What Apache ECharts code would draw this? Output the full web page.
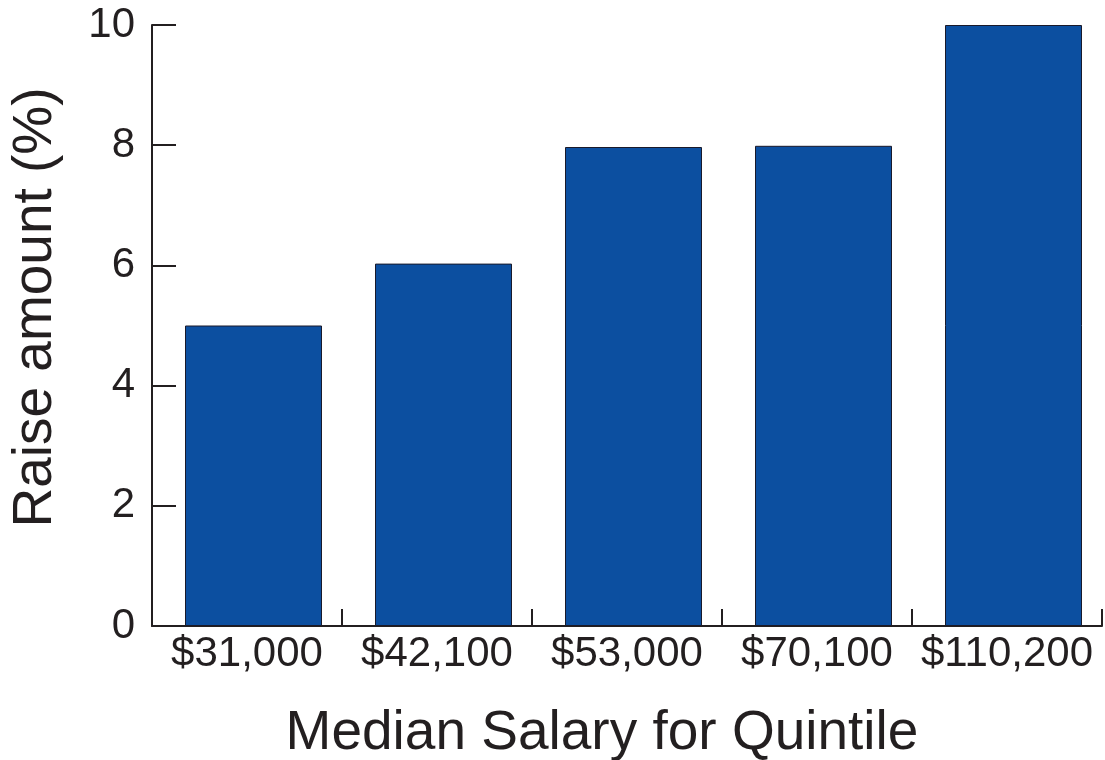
<!DOCTYPE html>
<html>
<head>
<meta charset="utf-8">
<script src="https://cdn.jsdelivr.net/npm/echarts@6/dist/echarts.min.js"></script>
<style>
  html, body { margin: 0; padding: 0; background: #fff; }
  #chart { width: 1105px; height: 760px; }
</style>
</head>
<body>
<div id="chart"></div>
<script>
  // salary quintiles and raise percent
  var categories = ['$31,000', '$42,100', '$53,000', '$70,100', '$110,200'];
  var raiseValues = [5.0, 6.03, 7.97, 7.99, 10.0];
  var yTicks = [0, 2, 4, 6, 8, 10];

  var textColor = '#231f20';
  var font = 'Liberation Sans, Arial, Helvetica, sans-serif';

  var myChart = echarts.init(document.getElementById('chart'));
  var option = {
    animation: false,
    grid: {
      left: 152,
      right: 3,
      top: 25,
      bottom: 134,
      outerBoundsMode: 'none'
    },
    xAxis: {
      type: 'category',
      data: categories,
      name: 'Median Salary for Quintile',
      nameLocation: 'middle',
      nameGap: 80,
      nameTextStyle: {
        fontSize: 55,
        color: textColor,
        fontFamily: font,
        padding: [0, 50, 0, 0]
      },
      axisLine: { lineStyle: { color: textColor, width: 2 } },
      axisTick: {
        show: true,
        interval: 0,
        inside: true,
        length: 17,
        lineStyle: { color: textColor, width: 2 }
      },
      axisLabel: {
        interval: 0,
        margin: 7,
        fontSize: 42,
        color: textColor,
        fontFamily: font
      }
    },
    yAxis: {
      type: 'value',
      min: 0,
      max: 10,
      interval: 2,
      name: 'Raise amount (%)',
      nameLocation: 'middle',
      nameGap: 89,
      nameTextStyle: {
        fontSize: 55,
        color: textColor,
        fontFamily: font,
        padding: [0, 0, 0, 36]
      },
      splitLine: { show: false },
      axisLine: { show: true, lineStyle: { color: textColor, width: 2 } },
      axisTick: {
        show: true,
        inside: true,
        length: 24,
        lineStyle: { color: textColor, width: 2 }
      },
      axisLabel: {
        margin: 17,
        fontSize: 42,
        color: textColor,
        fontFamily: font,
        formatter: function (v) {
          return yTicks.indexOf(v) >= 0 ? String(v) : '';
        }
      }
    },
    series: [
      {
        // empty spacer, the bars sit a little right of the category centre
        type: 'bar',
        data: categories.map(function () { return null; }),
        barWidth: 13,
        barGap: '0%',
        silent: true
      },
      {
        type: 'bar',
        data: raiseValues,
        barWidth: 137,
        barGap: '0%',
        itemStyle: {
          color: '#0c4fa0',
          borderColor: '#1a1a2a',
          borderWidth: 1
        }
      }
    ]
  };
  myChart.setOption(option);
</script>
</body>
</html>
